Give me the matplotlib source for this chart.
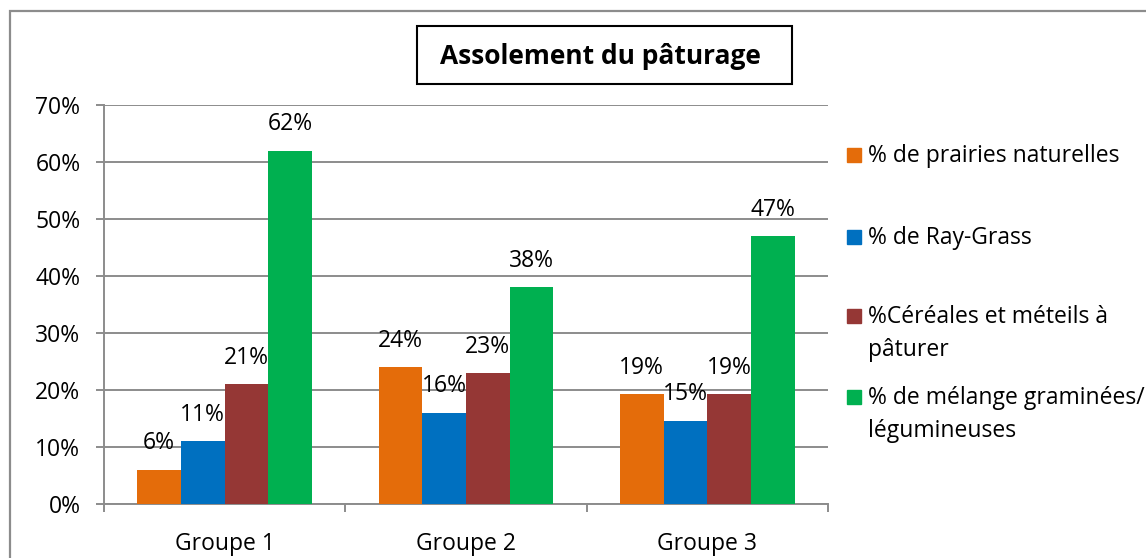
import numpy as np
import matplotlib
matplotlib.use("Agg")
import matplotlib.pyplot as plt
from matplotlib.patches import Rectangle

plt.rcParams['font.family'] = ['Open Sans', 'DejaVu Sans']

groupes = ["Groupe 1", "Groupe 2", "Groupe 3"]
series = ["% de prairies naturelles", "% de Ray-Grass",
          "%Céréales et méteils à\npâturer", "% de mélange graminées/\nlégumineuses"]
prairies = [0.06, 0.24, 0.193]
ray_grass = [0.11, 0.16, 0.146]
cereales = [0.21, 0.23, 0.193]
melange = [0.62, 0.38, 0.47]
couleurs = ["#E46C0A", "#0070C0", "#953735", "#00B050"]

W, H = 1146, 558
fig = plt.figure(figsize=(W / 100, H / 100), dpi=100)

def fx(px):
    return px / W

def fy(py):
    return 1 - py / H

ax = fig.add_axes([fx(104), fy(504), fx(828) - fx(104), fy(105) - fy(504)])

valeurs = [prairies, ray_grass, cereales, melange]
x = np.arange(len(groupes))
bw = 0.181
fs = 16.5
for i, (vals, c) in enumerate(zip(valeurs, couleurs)):
    pos = x + (i - 1.5) * bw
    ax.bar(pos, vals, width=bw, color=c, zorder=3)
    for xp, v in zip(pos, vals):
        ax.annotate(f"{round(v * 100):.0f}%", (xp, v), xytext=(0, 19),
                    textcoords="offset points", ha="center", va="center",
                    fontsize=fs, zorder=4)

grid_c = "#8c8c8c"
ax.set_xlim(-0.5, 2.5)
ax.set_ylim(0, 0.70)
ax.set_yticks(np.arange(0, 0.71, 0.1))
ax.set_yticklabels([f"{t}%" for t in range(0, 71, 10)], fontsize=fs)
ax.yaxis.grid(True, color=grid_c, linewidth=1.4, zorder=0)
ax.set_xticks(x)
ax.set_xticklabels(groupes, fontsize=fs)
ax.set_xticks([-0.5, 0.5, 1.5, 2.5], minor=True)
ax.tick_params(axis="x", which="major", length=0, pad=20)
ax.tick_params(axis="x", which="minor", length=6, width=1.4, color=grid_c, direction="out")
ax.tick_params(axis="y", length=6, width=1.4, color=grid_c, pad=11)
for s in ["top", "right"]:
    ax.spines[s].set_visible(False)
for s in ["left", "bottom"]:
    ax.spines[s].set_color(grid_c)
    ax.spines[s].set_linewidth(1.4)

# cadre du graphique
fig.patches.append(Rectangle((fx(10), fy(700)), fx(1400), fy(11) - fy(700),
                             transform=fig.transFigure, fill=False,
                             edgecolor="#8c8c8c", linewidth=1.6))

# titre encadré
fig.patches.append(Rectangle((fx(417), fy(84)), fx(792) - fx(417), fy(26) - fy(84),
                             transform=fig.transFigure, fill=False,
                             edgecolor="black", linewidth=1.5))
fig.text(fx(600), fy(57), "Assolement du pâturage", ha="center", va="center",
         fontsize=19, fontweight="bold")

# légende
leg_y = [155, 237, 316, 397]
for lab, c, yy in zip(series, couleurs, leg_y):
    fig.patches.append(Rectangle((fx(847), fy(yy + 7)), fx(14), fy(yy - 7) - fy(yy + 7),
                                 transform=fig.transFigure, color=c))
    for k, ligne in enumerate(lab.split("\n")):
        fig.text(fx(868), fy(yy + 7 + 33 * k), ligne, ha="left", va="baseline",
                 fontsize=fs)

fig.savefig("out.png", dpi=100)
